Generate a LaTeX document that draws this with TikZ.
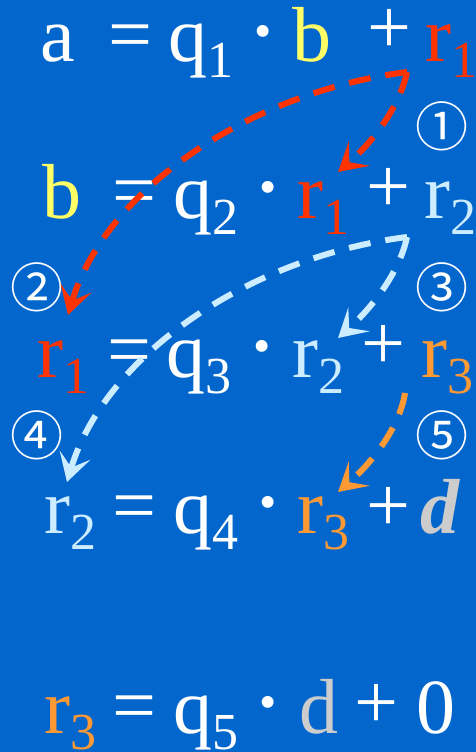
\documentclass[tikz,border=0pt]{standalone}
\usepackage{fontspec}
\setmainfont{Liberation Serif}
\newfontfamily\circfont{Noto Sans CJK JP}
\usetikzlibrary{arrows.meta}
\definecolor{bgblue}{RGB}{3,102,204}
\definecolor{cred}{RGB}{255,51,0}
\definecolor{cyel}{RGB}{255,255,102}
\definecolor{clb}{RGB}{204,236,255}
\definecolor{corg}{RGB}{255,153,51}
\definecolor{cgry}{RGB}{204,204,204}
\newcommand\lowsub[1]{\raisebox{-16pt}{\fontsize{52}{52}\selectfont #1}}
\begin{document}
\begin{tikzpicture}[x=1pt,y=-1pt,
  tok/.style={anchor=base west,inner sep=0pt,text=white,font=\fontsize{78}{80}\selectfont},
  dotk/.style={anchor=base west,inner sep=0pt,text=white,font=\fontsize{100}{100}\selectfont},
  circ/.style={anchor=center,inner sep=0pt,text=white,font=\circfont\fontsize{53}{53}\selectfont},
  arr/.style={line width=6pt,dash pattern=on 22pt off 15pt,
    -{Stealth[length=28pt,width=32pt,inset=13pt]}}]
\fill[bgblue] (0,0) rectangle (476,752);
\useasboundingbox (0,0) rectangle (476,752);
% row 1
\node[tok] (a1) at (40,62) {a};
\node[tok] (e1) at (108,60.5) {=};
\node[tok] (q1) at (168,62) {q\lowsub{1}};
\node[dotk] (d1) at (246,64) {·};
\node[tok,text=cyel] (b1) at (292,62) {b};
\node[tok] (p1) at (367,54) {+};
\node[tok,text=cred] (r11) at (425,62) {r\lowsub{1}};
% row 2
\node[tok,text=cyel] (b2) at (42,218) {b};
\node[tok] (e2) at (112,216.5) {=};
\node[tok] (q2) at (173,218) {q\lowsub{2}};
\node[dotk] (d2) at (251,220) {·};
\node[tok,text=cred] (r12) at (297,218) {r\lowsub{1}};
\node[tok] (p2) at (366,212) {+};
\node[tok,text=clb] (r22) at (424,218) {r\lowsub{2}};
% row 3
\node[tok,text=cred] (r13) at (37,377) {r\lowsub{1}};
\node[tok] (e3) at (107,375.5) {=};
\node[tok] (q3) at (166,377) {q\lowsub{3}};
\node[dotk] (d3) at (245,379) {·};
\node[tok,text=clb] (r23) at (292,377) {r\lowsub{2}};
\node[tok] (p3) at (361,369) {+};
\node[tok,text=corg] (r33) at (421,377) {r\lowsub{3}};
% row 4
\node[tok,text=clb] (r24) at (44,533) {r\lowsub{2}};
\node[tok] (e4) at (112,531.5) {=};
\node[tok] (q4) at (173,533) {q\lowsub{4}};
\node[dotk] (d4) at (251,535) {·};
\node[tok,text=corg] (r34) at (297,533) {r\lowsub{3}};
\node[tok] (p4) at (366,531) {+};
\node[tok,text=cgry] (dd4) at (420,533) {\textbf{\textit{d}}};
% row 5
\node[tok,text=corg] (r35) at (44,733) {r\lowsub{3}};
\node[tok] (e5) at (112,731.5) {=};
\node[tok] (q5) at (173,733) {q\lowsub{5}};
\node[dotk] (d5) at (251,735) {·};
\node[tok,text=cgry] (dd5) at (299,733) {d};
\node[tok] (p5) at (354,728) {+};
\node[tok] (z5) at (416,733) {0};
% circled numbers
\node[circ] (c1) at (442,126) {①};
\node[circ] (c2) at (37,287) {②};
\node[circ] (c3) at (442,287) {③};
\node[circ] (c4) at (37,435) {④};
\node[circ] (c5) at (442,435) {⑤};
% arrow ends
\coordinate (rs) at (407,72);
\coordinate (rl) at (68,315);
\coordinate (rsh) at (338,172);
\coordinate (bs) at (407,237);
\coordinate (bl) at (67,482);
\coordinate (bsh) at (338,338);
\coordinate (os) at (405,393);
\coordinate (osh) at (338,492);
\draw[arr,cred] (rs) .. controls (250,92) and (105,190) .. (rl);
\draw[arr,cred] (rs) .. controls (400,105) and (375,140) .. (rsh);
\draw[arr,clb] (bs) .. controls (250,257) and (105,355) .. (bl);
\draw[arr,clb] (bs) .. controls (400,270) and (375,305) .. (bsh);
\draw[arr,corg] (os) .. controls (400,425) and (375,460) .. (osh);
\end{tikzpicture}
\end{document}
